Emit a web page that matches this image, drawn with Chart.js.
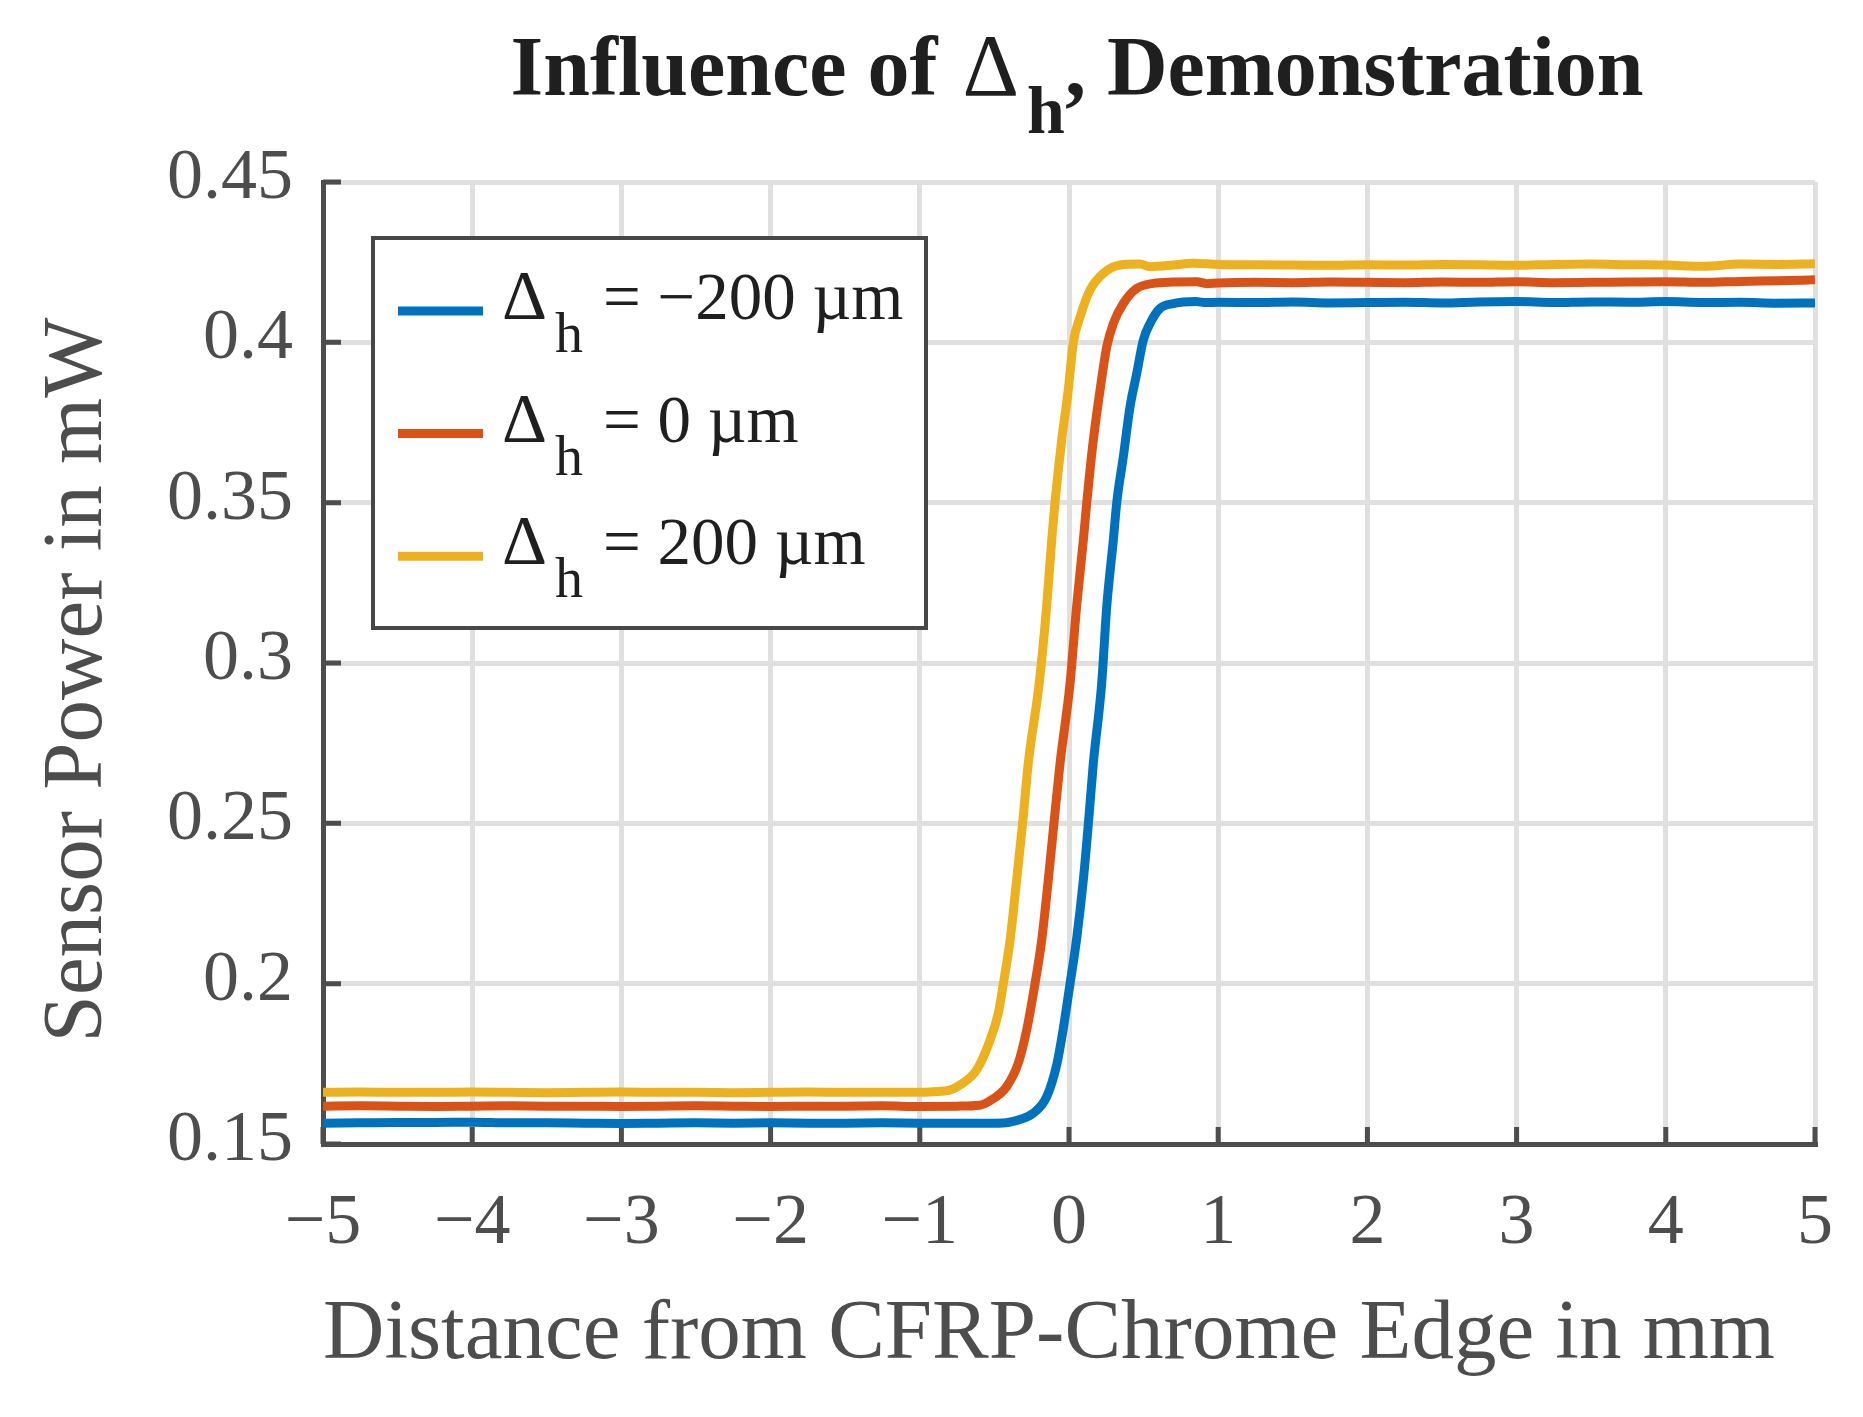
<!DOCTYPE html>
<html><head><meta charset="utf-8">
<script src="https://cdn.jsdelivr.net/npm/chart.js@4.4.1/dist/chart.umd.min.js"></script>
<style>html,body{margin:0;padding:0;background:#fff;}#wrap{width:1863px;height:1417px;position:relative;}</style>
</head><body><div id="wrap"><canvas id="c"></canvas></div>
<script>
const chartTitle = ['Influence of ', 'Δ', 'h', ',', ' Demonstration'];
const xAxisTitle = 'Distance from CFRP-Chrome Edge in mm';
const yAxisTitle = 'Sensor Power in mW';
const seriesLabels = ['Δh = −200 µm', 'Δh = 0 µm', 'Δh = 200 µm'];
const xTicks = [-5, -4, -3, -2, -1, 0, 1, 2, 3, 4, 5];
const xTickLabels = ['−5', '−4', '−3', '−2', '−1', '0', '1', '2', '3', '4', '5'];
const yTicks = [0.15, 0.2, 0.25, 0.3, 0.35, 0.4, 0.45];
const yTickLabels = ['0.15', '0.2', '0.25', '0.3', '0.35', '0.4', '0.45'];

const blueX = [-5,-4.75,-4.5,-4.25,-4,-3.75,-3.5,-3.25,-3,-2.75,-2.5,-2.25,-2,-1.75,-1.5,-1.25,-1,-0.75,-0.5,
  -0.4,-0.32,-0.24,-0.15,-0.08,-0.04,
  0.007,0.05,0.096,0.13,0.163,0.219,0.253,0.297,0.32,0.364,0.409,0.454,0.498,0.543,0.61,0.7,0.85,0.92,
  1,1.25,1.5,1.75,2,2.25,2.5,2.75,3,3.25,3.5,3.75,4,4.25,4.5,4.75,5];
const blueY = [0.1565,0.1566,0.1567,0.1567,0.1568,0.1566,0.1566,0.1565,0.1564,0.1565,0.1566,0.1565,0.1566,0.1565,0.1565,0.1566,0.1565,0.1565,0.1565,
  0.1568,0.1578,0.1596,0.1647,0.1752,0.1855,
  0.2000,0.2136,0.2323,0.2500,0.2687,0.2936,0.3176,0.3383,0.3500,0.3643,0.3799,0.3903,0.4007,0.4059,0.4106,0.4121,0.4127,0.4124,
  0.4125,0.4124,0.4126,0.4123,0.4124,0.4125,0.4123,0.4126,0.4127,0.4124,0.4126,0.4125,0.4127,0.4124,0.4125,0.4122,0.4123];

const redX = [-5,-4.75,-4.5,-4.25,-4,-3.75,-3.5,-3.25,-3,-2.75,-2.5,-2.25,-2,-1.75,-1.5,-1.25,-1,-0.75,
  -0.6,-0.529,-0.418,-0.34,-0.284,-0.228,-0.183,-0.139,-0.101,-0.06,0.007,0.051,0.096,0.119,0.163,0.208,0.253,0.297,0.364,0.454,0.565,0.7,0.856,0.923,
  1,1.25,1.5,1.75,2,2.25,2.5,2.75,3,3.25,3.5,3.75,4,4.25,4.5,4.75,5];
const redY = [0.1618,0.1619,0.1618,0.1617,0.1618,0.1619,0.1618,0.1618,0.1617,0.1618,0.1619,0.1618,0.1617,0.1618,0.1618,0.1619,0.1617,0.1618,
  0.1621,0.1635,0.1679,0.1752,0.1855,0.2000,0.2136,0.2323,0.2500,0.2687,0.2936,0.3176,0.3383,0.3500,0.3695,0.3851,0.3986,0.4059,0.4121,0.4168,0.4184,0.4188,0.4189,0.4183,
  0.4185,0.4187,0.4186,0.4188,0.4187,0.4186,0.4188,0.4187,0.4189,0.4186,0.4187,0.4188,0.4189,0.4187,0.4190,0.4192,0.4195];

const yellowX = [-5,-4.75,-4.5,-4.25,-4,-3.75,-3.5,-3.25,-3,-2.75,-2.5,-2.25,-2,-1.75,-1.5,-1.25,-1,
  -0.909,-0.8,-0.731,-0.619,-0.529,-0.474,-0.44,-0.395,-0.351,-0.311,-0.273,-0.2,-0.15,-0.116,-0.094,-0.049,-0.005,0.029,0.074,0.141,0.23,0.342,0.476,0.543,0.7,0.833,
  1,1.25,1.5,1.75,2,2.25,2.5,2.75,3,3.25,3.5,3.75,4,4.25,4.5,4.75,5];
const yellowY = [0.1661,0.1662,0.1661,0.1661,0.1662,0.1661,0.1660,0.1661,0.1662,0.1661,0.1661,0.1660,0.1661,0.1662,0.1661,0.1661,0.1661,
  0.1663,0.1668,0.1684,0.1731,0.1824,0.1908,0.2000,0.2136,0.2323,0.2500,0.2687,0.2936,0.3176,0.3383,0.3500,0.3695,0.3851,0.4000,0.4079,0.4163,0.4215,0.4241,0.4244,0.4236,0.4241,0.4247,
  0.4243,0.4242,0.4241,0.4240,0.4242,0.4241,0.4243,0.4242,0.4240,0.4243,0.4244,0.4242,0.4241,0.4237,0.4244,0.4243,0.4245];

const SERIF = "'Liberation Serif', 'Times New Roman', serif";
const axisColor = '#4d4d4d';
const gridColor = '#e0e0e0';
const textDark = '#1f1f1f';

function pts(xs, ys) { return xs.map((v, i) => ({ x: v, y: ys[i] })); }

// shift where a scale's own title is drawn (MATLAB places them slightly off-centre)
function shiftTitle(scale, dx, dy) {
  const proto = Object.getPrototypeOf(scale);
  scale.drawTitle = function () {
    const ctx = this.ctx;
    ctx.save(); ctx.translate(dx, dy);
    proto.drawTitle.call(this);
    ctx.restore();
  };
}

const innerTicks = {
  id: 'innerTicks',
  beforeDatasetsDraw(chart) {
    const { ctx, chartArea: a, scales: { x, y } } = chart;
    ctx.save();
    ctx.strokeStyle = axisColor; ctx.lineWidth = 5; ctx.lineCap = 'butt';
    ctx.beginPath();
    xTicks.forEach(v => { const px = x.getPixelForValue(v); ctx.moveTo(px, a.bottom); ctx.lineTo(px, a.bottom - 17); });
    yTicks.forEach(v => { const py = y.getPixelForValue(v); ctx.moveTo(a.left, py); ctx.lineTo(a.left + 18, py); });
    ctx.stroke();
    ctx.restore();
  }
};

const titlePlugin = {
  id: 'subTitle',
  afterDraw(chart) {
    const ctx = chart.ctx, a = chart.chartArea;
    ctx.save();
    ctx.fillStyle = textDark; ctx.textBaseline = 'alphabetic'; ctx.textAlign = 'left';
    const parts = [
      { t: chartTitle[0], f: 'bold 84px ' + SERIF, dy: 0, gap: 0 },
      { t: chartTitle[1], f: '88px ' + SERIF, dy: 0, gap: 4 },
      { t: chartTitle[2], f: 'bold 68px ' + SERIF, dy: 38, gap: 8 },
      { t: chartTitle[3], f: 'bold 84px ' + SERIF, dy: 0, gap: 0 },
      { t: chartTitle[4], f: 'bold 84px ' + SERIF, dy: 0, gap: 0 }
    ];
    let total = 0;
    parts.forEach(p => { ctx.font = p.f; p.w = ctx.measureText(p.t).width; total += p.w + p.gap; });
    let x = (a.left + a.right) / 2 + 8 - total / 2;
    const base = 95;
    parts.forEach(p => { x += p.gap; ctx.font = p.f; ctx.fillText(p.t, x, base + p.dy); x += p.w; });
    ctx.restore();
  }
};

const legendPlugin = {
  id: 'boxLegend',
  afterDatasetsDraw(chart) {
    const ctx = chart.ctx, a = chart.chartArea;
    const bx = a.left + 50, by = a.top + 56, bw = 553, bh = 390;
    ctx.save();
    ctx.fillStyle = '#ffffff'; ctx.fillRect(bx, by, bw, bh);
    ctx.strokeStyle = '#474747'; ctx.lineWidth = 4; ctx.strokeRect(bx, by, bw, bh);
    chart.data.datasets.forEach((ds, i) => {
      const ly = by + 73 + i * 122.6;
      ctx.strokeStyle = ds.borderColor; ctx.lineWidth = 9; ctx.lineCap = 'butt';
      ctx.beginPath(); ctx.moveTo(bx + 25, ly); ctx.lineTo(bx + 110, ly); ctx.stroke();
      ctx.fillStyle = textDark; ctx.textBaseline = 'alphabetic'; ctx.textAlign = 'left';
      ctx.font = '70px ' + SERIF; ctx.fillText(ds.label.charAt(0), bx + 129, ly + 8);
      ctx.font = '56px ' + SERIF; ctx.fillText(ds.label.charAt(1), bx + 182, ly + 41);
      ctx.font = '67px ' + SERIF; ctx.fillText(ds.label.slice(2).trim(), bx + 230, ly + 8);
    });
    ctx.restore();
  }
};

const colors = ['#0072BD', '#D95319', '#EDB120'];
const series = [pts(blueX, blueY), pts(redX, redY), pts(yellowX, yellowY)];

new Chart(document.getElementById('c'), {
  type: 'line',
  data: {
    datasets: series.map((d, i) => ({
      label: seriesLabels[i], data: d, borderColor: colors[i], backgroundColor: colors[i],
      borderWidth: 9, pointRadius: 0, cubicInterpolationMode: 'monotone', fill: false,
      borderJoinStyle: 'round', borderCapStyle: 'butt'
    }))
  },
  options: {
    responsive: true, maintainAspectRatio: false, animation: false, devicePixelRatio: 1,
    layout: { padding: { top: 182, right: 48, bottom: 0, left: 0 } },
    plugins: { legend: { display: false }, title: { display: false }, tooltip: { enabled: false } },
    scales: {
      x: {
        type: 'linear', min: -5, max: 5,
        afterBuildTicks: s => { s.ticks = xTicks.map(v => ({ value: v })); },
        afterFit: s => { s.height = 273; s.paddingLeft = 0; s.paddingRight = 0; shiftTitle(s, -20, 0); },
        ticks: { callback: v => xTickLabels[xTicks.indexOf(v)], font: { family: SERIF, size: 72 }, color: axisColor, padding: 37, maxRotation: 0, autoSkip: false },
        grid: { color: gridColor, lineWidth: 5, drawTicks: false },
        border: { display: true, color: axisColor, width: 5 },
        title: { display: true, text: xAxisTitle, font: { family: SERIF, size: 85 }, color: axisColor, padding: { top: 0, bottom: 30 } }
      },
      y: {
        type: 'linear', min: 0.15, max: 0.45,
        afterBuildTicks: s => { s.ticks = yTicks.map(v => ({ value: v })); },
        afterFit: s => { s.width = 323; shiftTitle(s, 0, 17); },
        ticks: { callback: v => yTickLabels[yTicks.findIndex(t => Math.abs(t - v) < 1e-9)], font: { family: SERIF, size: 72 }, color: axisColor, padding: 30, labelOffset: -3, autoSkip: false },
        grid: { color: gridColor, lineWidth: 5, drawTicks: false },
        border: { display: true, color: axisColor, width: 5 },
        title: { display: true, text: yAxisTitle, font: { family: SERIF, size: 85 }, color: axisColor, padding: { top: 28, bottom: 0 } }
      }
    }
  },
  plugins: [innerTicks, legendPlugin, titlePlugin]
});
</script></body></html>
